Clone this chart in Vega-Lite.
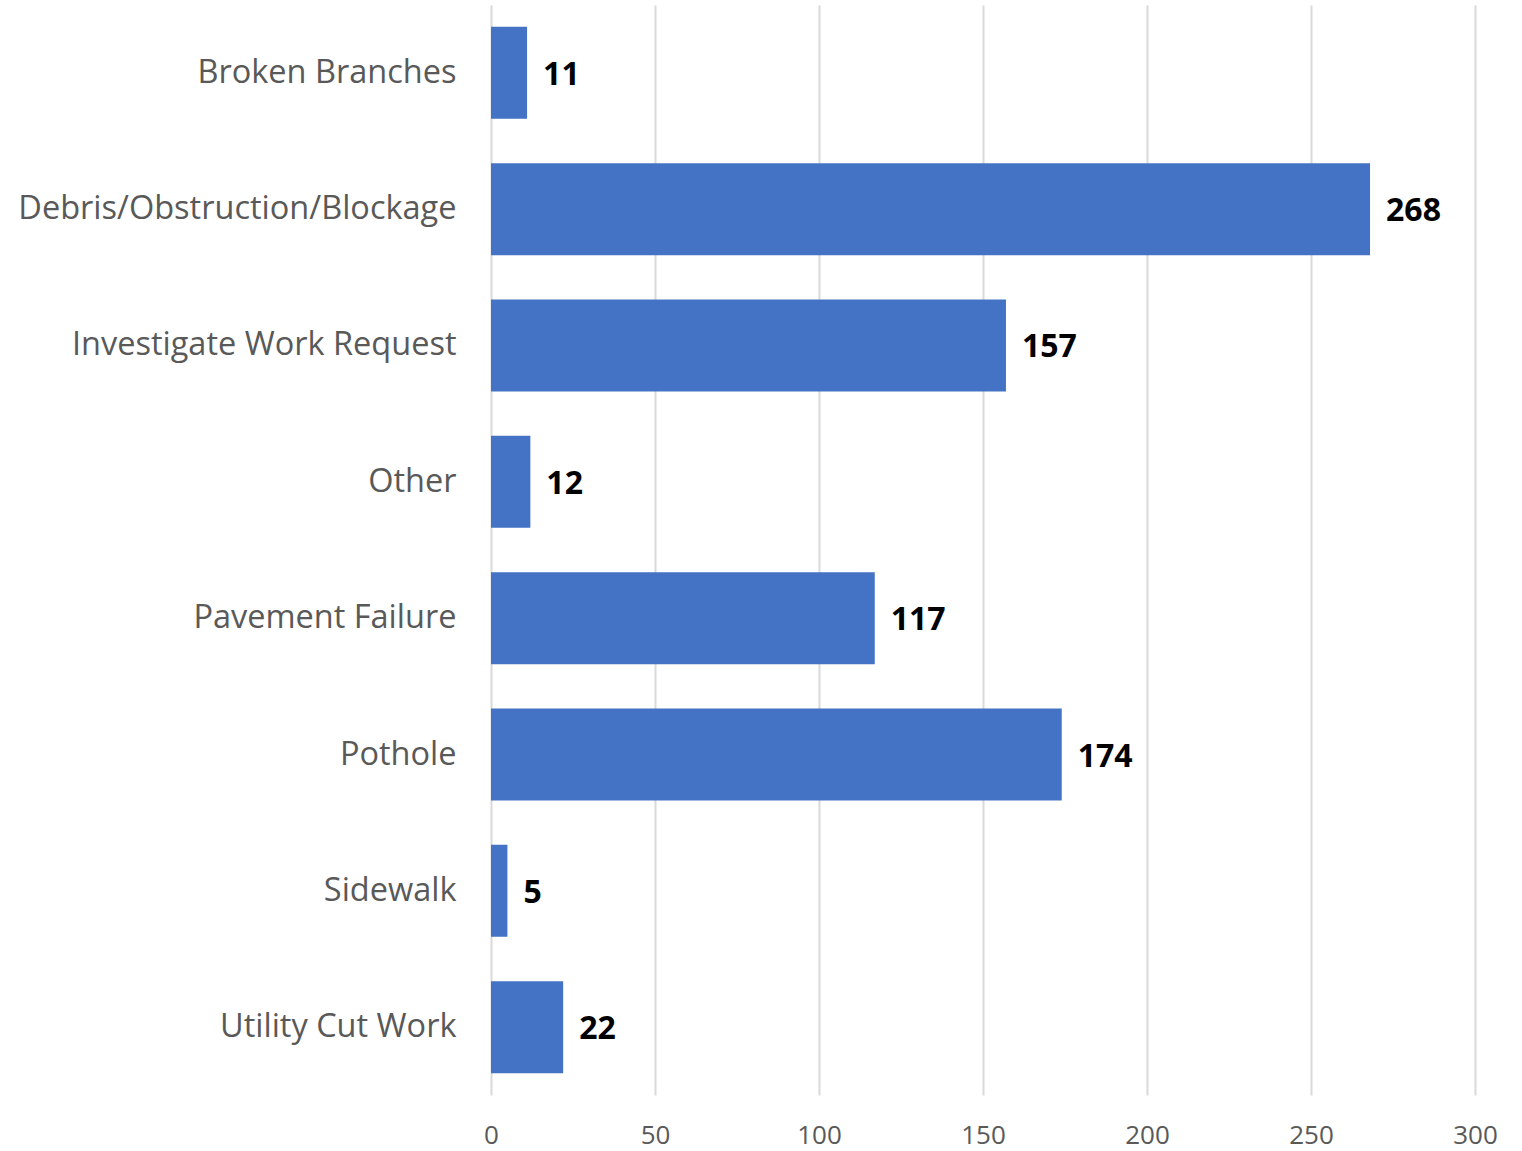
{
  "$schema": "https://vega.github.io/schema/vega-lite/v6.json",
  "autosize": "none",
  "width": 984,
  "height": 1090,
  "padding": {"left": 491, "top": 5, "right": 47, "bottom": 56},
  "background": "white",
  "data": {"values": [
    {"category": "Broken Branches", "count": 11},
    {"category": "Debris/Obstruction/Blockage", "count": 268},
    {"category": "Investigate Work Request", "count": 157},
    {"category": "Other", "count": 12},
    {"category": "Pavement Failure", "count": 117},
    {"category": "Pothole", "count": 174},
    {"category": "Sidewalk", "count": 5},
    {"category": "Utility Cut Work", "count": 22}
  ]},
  "config": {"view": {"stroke": null}, "font": "Open Sans"},
  "encoding": {
    "y": {"field": "category", "type": "nominal", "sort": null, "title": null,
      "scale": {"paddingInner": 0.325, "paddingOuter": 0.16},
      "axis": {"domain": false, "ticks": false, "grid": false, "labelFontSize": 32.5, "labelColor": "#595959", "labelPadding": 35, "labelLimit": 600}},
    "x": {"field": "count", "type": "quantitative", "title": null,
      "scale": {"domain": [0, 300], "nice": false},
      "axis": {"values": [0, 50, 100, 150, 200, 250, 300], "domain": false, "ticks": false, "grid": true, "gridColor": "#d9d9d9", "gridWidth": 2, "labelFontSize": 26, "labelColor": "#595959", "labelPadding": 27, "labelFlush": false}}
  },
  "layer": [
    {"mark": {"type": "bar", "color": "#4472C4"}},
    {"mark": {"type": "text", "align": "left", "dx": 16, "dy": 2, "fontSize": 32, "fontWeight": "bold", "color": "#000000"},
     "encoding": {"text": {"field": "count", "type": "quantitative"}}}
  ]
}
